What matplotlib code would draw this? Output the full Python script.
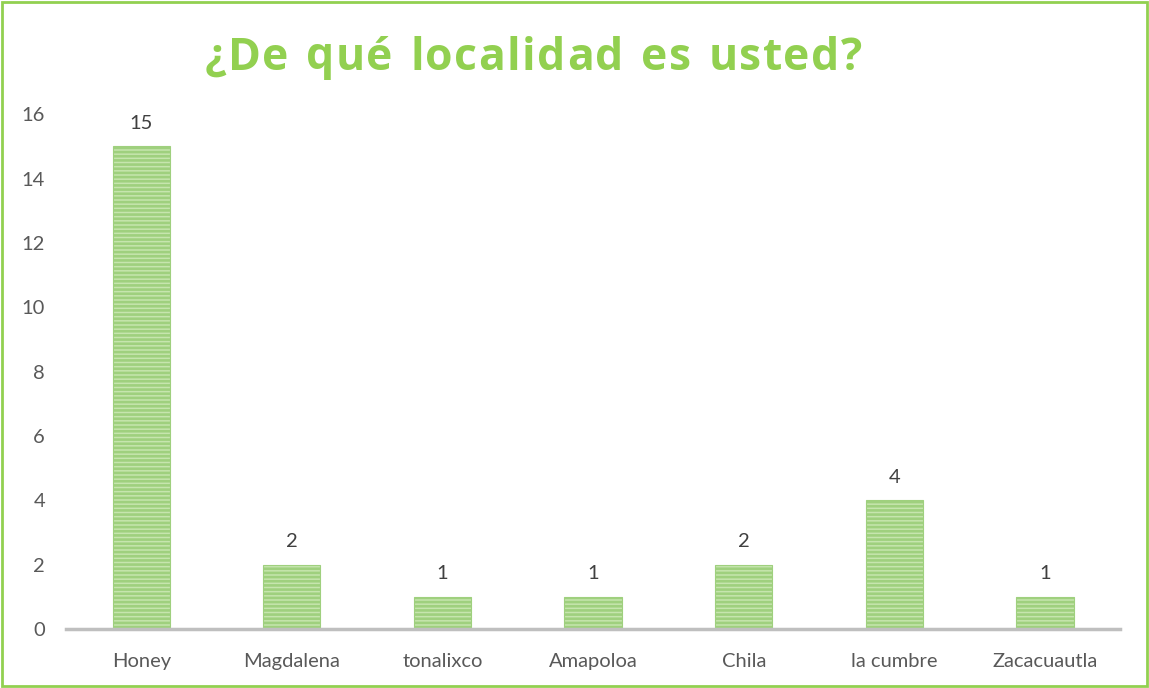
import matplotlib.pyplot as plt
from matplotlib.patches import Rectangle

# datos
localidades = ['Honey', 'Magdalena', 'tonalixco', 'Amapoloa', 'Chila', 'la cumbre', 'Zacacuautla']
respuestas = [15, 2, 1, 1, 2, 4, 1]
yticks = [0, 2, 4, 6, 8, 10, 12, 14, 16]
titulo = '¿De qué localidad es usted?'

plt.rcParams['font.family'] = ['Lato', 'DejaVu Sans']
plt.rcParams['hatch.linewidth'] = 1.9
plt.rcParams['hatch.color'] = '#62B035'

fig = plt.figure(figsize=(11.49, 6.88), dpi=100)
ax = fig.add_axes([0.0574, 0.0858, 0.9176, 0.7482])

x = range(len(localidades))
ax.bar(x, respuestas, width=0.38, color='#C6E5AE', edgecolor='#9FD07E',
       linewidth=0.8, hatch='----')

for xi, v in zip(x, respuestas):
    ax.text(xi, v + 0.45, str(v), ha='center', va='bottom', fontsize=14.5, color='#404040')

ax.set_xlim(-0.5, len(localidades) - 0.5)
ax.set_ylim(0, 16)
ax.set_yticks(yticks)
ax.set_xticks(list(x))
ax.set_xticklabels(localidades)
ax.tick_params(axis='both', length=0, labelsize=14.5, colors='#595959')
ax.tick_params(axis='x', pad=17)
ax.tick_params(axis='y', pad=15)
for s in ['top', 'right', 'left']:
    ax.spines[s].set_visible(False)
ax.spines['bottom'].set_color('#BFBFBF')
ax.spines['bottom'].set_linewidth(2.5)

# titulo con espaciado entre letras
fig.canvas.draw()
r = fig.canvas.get_renderer()
props = dict(fontsize=32, fontweight='bold', color='#92D050', family='Open Sans')
anchos = []
for c in titulo:
    t = fig.text(0, 0, c if c != ' ' else 'n', **props)
    w = t.get_window_extent(r).width
    if c == ' ':
        w *= 0.5
    anchos.append(w)
    t.remove()
x0, x1 = 205, 862
extra = (x1 - x0 - sum(anchos)) / (len(titulo) - 1)
pos = x0
for c, w in zip(titulo, anchos):
    if c != ' ':
        fig.text(pos / 1149, 1 - 58 / 688, c, ha='left', va='center', **props)
    pos += w + extra

fig.patches.append(Rectangle((0.002, 0.003), 0.996, 0.994, transform=fig.transFigure,
                             fill=False, edgecolor='#92D050', linewidth=2))

fig.savefig('out.png', dpi=100)
